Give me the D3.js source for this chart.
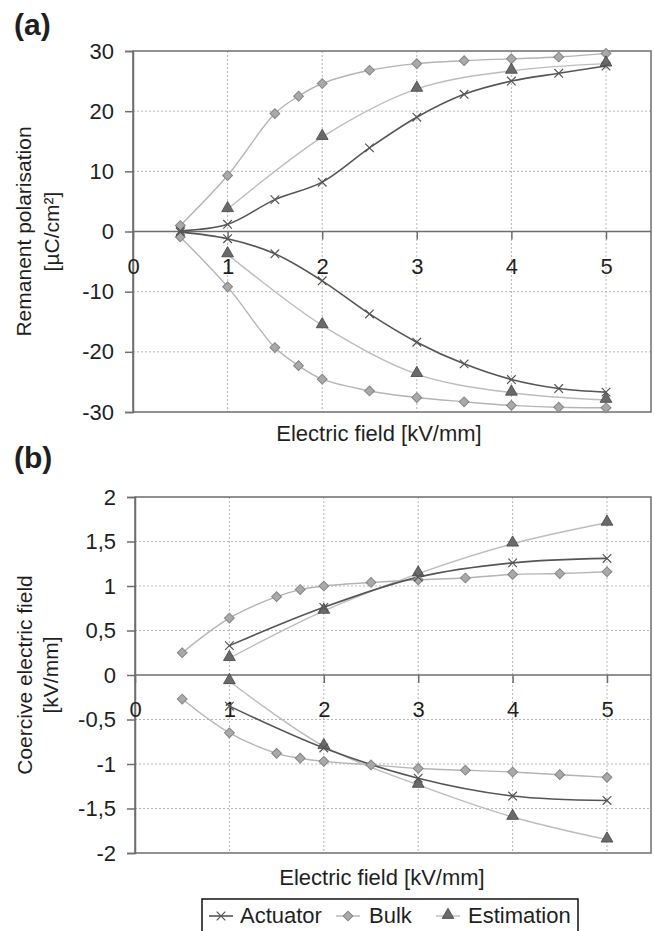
<!DOCTYPE html>
<html>
<head>
<meta charset="utf-8">
<script src="https://cdn.jsdelivr.net/npm/d3@7"></script>
<style>
  body { margin: 0; background: #fff; }
  text { font-family: Arial, "Liberation Sans", sans-serif; fill: #1f1f1f; }
</style>
</head>
<body>
<div class="graph"></div>
<script>
var width = 654,
    height = 931;

// panel (a) - remanent polarisation
var fieldBulkA = [0.5, 1, 1.5, 1.75, 2, 2.5, 3, 3.5, 4, 4.5, 5];
var fieldActA = [0.5, 1, 1.5, 2, 2.5, 3, 3.5, 4, 4.5, 5];
var fieldEstA = [1, 2, 3, 4, 5];
var remBulkPos = [1, 9.3, 19.6, 22.5, 24.6, 26.8, 27.9, 28.4, 28.7, 29, 29.6];
var remBulkNeg = [-0.9, -9.2, -19.3, -22.3, -24.55, -26.5, -27.6, -28.3, -28.9, -29.2, -29.3];
var remActPos = [0.1, 1.2, 5.3, 8.2, 13.9, 19.0, 22.8, 25.0, 26.3, 27.5];
var remActNeg = [-0.1, -1.2, -3.7, -8.2, -13.7, -18.4, -22.0, -24.6, -26.1, -26.7];
var remEstPos = [3.7, 15.7, 23.7, 26.7, 27.9];
var remEstNeg = [-3.8, -15.6, -23.7, -26.8, -28.0];
var ticksYA = [-30, -20, -10, 0, 10, 20, 30];

// panel (b) - coercive electric field
var fieldBulkB = [0.5, 1, 1.5, 1.75, 2, 2.5, 3, 3.5, 4, 4.5, 5];
var fieldB = [1, 2, 3, 4, 5];
var coBulkPos = [0.25, 0.64, 0.88, 0.96, 1.0, 1.04, 1.07, 1.09, 1.13, 1.14, 1.16];
var coBulkNeg = [-0.27, -0.65, -0.88, -0.935, -0.97, -1.01, -1.05, -1.07, -1.09, -1.12, -1.15];
var coActPos = [0.33, 0.76, 1.10, 1.26, 1.31];
var coActNeg = [-0.35, -0.82, -1.16, -1.36, -1.41];
var coEstPos = [0.19, 0.72, 1.14, 1.475, 1.71];
var coEstNeg = [-0.07, -0.80, -1.235, -1.595, -1.85];
var ticksYB = [-2, -1.5, -1, -0.5, 0, 0.5, 1, 1.5, 2];

var ticksX = [0, 1, 2, 3, 4, 5];
var seriesNames = ["Actuator", "Bulk", "Estimation"];

var styles = {
  Actuator: { line: "#555", width: 1.6 },
  Bulk: { line: "#b4b4b4", width: 1.4 },
  Estimation: { line: "#bdbdbd", width: 1.4 }
};

var svg = d3.select(".graph").append("svg")
    .attr("width", width)
    .attr("height", height);

function zip(xs, ys) {
  return xs.map(function(x, i) { return [x, ys[i]]; });
}

function drawMarker(g, name, x, y) {
  if (name == "Actuator") {
    g.append("path")
      .attr("d", d3.symbol().type(d3.symbolX).size(50)())
      .attr("transform", "translate(" + x + "," + y + ")")
      .attr("fill", "none")
      .attr("stroke", "#555")
      .attr("stroke-width", 1.2);
  } else if (name == "Bulk") {
    g.append("path")
      .attr("d", d3.symbol().type(d3.symbolSquare).size(48)())
      .attr("transform", "translate(" + x + "," + y + ") rotate(45)")
      .attr("fill", "#a9a9a9")
      .attr("stroke", "#858585")
      .attr("stroke-width", 1);
  } else {
    g.append("path")
      .attr("d", d3.symbol().type(d3.symbolTriangle).size(60)())
      .attr("transform", "translate(" + x + "," + (y - 1) + ")")
      .attr("fill", "#6a6a6a")
      .attr("stroke", "#444")
      .attr("stroke-width", 0.8);
  }
}

function panel(opt) {
  var x = d3.scaleLinear().domain([0, 5]).range([opt.left, opt.x5]);
  var y = d3.scaleLinear().domain(opt.yDomain).range([opt.bottom, opt.top]);
  var g = svg.append("g");

  // dotted grid
  g.selectAll(".gy").data(opt.yTicks.filter(function(d) {
      return d != 0 && d != opt.yDomain[0] && d != opt.yDomain[1];
    }))
    .enter().append("line")
      .attr("x1", opt.left).attr("x2", opt.right)
      .attr("y1", function(d) { return y(d); })
      .attr("y2", function(d) { return y(d); })
      .attr("stroke", "#b5b5b5")
      .attr("stroke-dasharray", "2,2");
  g.selectAll(".gx").data(ticksX.filter(function(d) { return d > 0; }))
    .enter().append("line")
      .attr("x1", function(d) { return x(d); })
      .attr("x2", function(d) { return x(d); })
      .attr("y1", opt.top).attr("y2", opt.bottom)
      .attr("stroke", "#b5b5b5")
      .attr("stroke-dasharray", "2,2");

  // frame
  g.append("rect")
    .attr("x", opt.left).attr("y", opt.top)
    .attr("width", opt.right - opt.left)
    .attr("height", opt.bottom - opt.top)
    .attr("fill", "none")
    .attr("stroke", "#6e6e6e")
    .attr("stroke-width", 1.5);

  // y axis ticks + labels
  var yAxis = d3.axisLeft(y).tickValues(opt.yTicks).tickSize(8).tickPadding(11)
      .tickFormat(opt.yFormat);
  var ya = g.append("g")
      .attr("transform", "translate(" + opt.left + ",0)")
      .call(yAxis);
  ya.select(".domain").attr("stroke", "#6e6e6e").attr("stroke-width", 1.5);
  ya.selectAll(".tick line").attr("stroke", "#6e6e6e").attr("stroke-width", 1.5);
  ya.selectAll(".tick text")
      .style("font-size", "22px")
      .attr("fill", "#1f1f1f");

  // x axis drawn on the zero line, labels hang below
  var xAxis = d3.axisBottom(x).tickValues(ticksX).tickSize(8).tickPadding(0)
      .tickFormat(d3.format("d"));
  var xa = g.append("g")
      .attr("transform", "translate(0," + y(0) + ")")
      .call(xAxis);
  xa.select(".domain").remove();
  xa.selectAll(".tick line").attr("stroke", "#6e6e6e").attr("stroke-width", 1.5);
  xa.selectAll(".tick text")
      .attr("y", opt.xLabelDy)
      .attr("dy", 0)
      .style("font-size", "22px")
      .attr("fill", "#1f1f1f");
  g.append("line")
    .attr("x1", opt.left).attr("x2", opt.right)
    .attr("y1", y(0)).attr("y2", y(0))
    .attr("stroke", "#6e6e6e")
    .attr("stroke-width", 1.5);

  // curves
  var line = d3.line()
      .x(function(d) { return x(d[0]); })
      .y(function(d) { return y(d[1]); })
      .curve(d3.curveCatmullRom.alpha(0.5));

  var order = ["Bulk", "Estimation", "Actuator"];
  order.forEach(function(name) {
    opt.series.filter(function(s) { return s.name == name; }).forEach(function(s) {
      g.append("path")
        .datum(s.points)
        .attr("d", line)
        .attr("fill", "none")
        .attr("stroke", styles[name].line)
        .attr("stroke-width", styles[name].width);
    });
  });
  order.forEach(function(name) {
    opt.series.filter(function(s) { return s.name == name; }).forEach(function(s) {
      s.points.forEach(function(p) { drawMarker(g, name, x(p[0]), y(p[1])); });
    });
  });

  // titles
  g.append("text")
    .attr("x", 14).attr("y", opt.tagY)
    .style("font-size", "30px")
    .style("font-weight", "bold")
    .text(opt.tag);

  var cy = (opt.top + opt.bottom) / 2;
  opt.yTitle.forEach(function(t, i) {
    g.append("text")
      .attr("transform", "translate(" + opt.yTitleX[i] + "," + cy + ") rotate(-90)")
      .attr("text-anchor", "middle")
      .style("font-size", "21px")
      .text(t);
  });

  g.append("text")
    .attr("x", opt.xTitleX).attr("y", opt.xTitleY)
    .attr("text-anchor", "middle")
    .style("font-size", "22px")
    .text("Electric field [kV/mm]");
}

panel({
  tag: "(a)", tagY: 35,
  left: 133, right: 651, top: 51, bottom: 412, x5: 606,
  yDomain: [-30, 30], yTicks: ticksYA,
  yFormat: function(d) { return d; },
  xLabelDy: 42,
  yTitle: ["Remanent polarisation", "[\u00b5C/cm\u00b2]"], yTitleX: [31, 59],
  xTitleX: 379, xTitleY: 441,
  series: [
    { name: "Bulk", points: zip(fieldBulkA, remBulkPos) },
    { name: "Bulk", points: zip(fieldBulkA, remBulkNeg) },
    { name: "Actuator", points: zip(fieldActA, remActPos) },
    { name: "Actuator", points: zip(fieldActA, remActNeg) },
    { name: "Estimation", points: zip(fieldEstA, remEstPos) },
    { name: "Estimation", points: zip(fieldEstA, remEstNeg) }
  ]
});

panel({
  tag: "(b)", tagY: 468,
  left: 135, right: 651, top: 497, bottom: 853, x5: 607,
  yDomain: [-2, 2], yTicks: ticksYB,
  yFormat: function(d) { return String(d).replace(".", ","); },
  xLabelDy: 42,
  yTitle: ["Coercive electric field", "[kV/mm]"], yTitleX: [32, 58],
  xTitleX: 382, xTitleY: 885,
  series: [
    { name: "Bulk", points: zip(fieldBulkB, coBulkPos) },
    { name: "Bulk", points: zip(fieldBulkB, coBulkNeg) },
    { name: "Actuator", points: zip(fieldB, coActPos) },
    { name: "Actuator", points: zip(fieldB, coActNeg) },
    { name: "Estimation", points: zip(fieldB, coEstPos) },
    { name: "Estimation", points: zip(fieldB, coEstNeg) }
  ]
});

// legend, cut by the bottom edge like the original
var legend = svg.append("g");
legend.append("rect")
  .attr("x", 202).attr("y", 899)
  .attr("width", 376).attr("height", 50)
  .attr("fill", "#fff")
  .attr("stroke", "#111")
  .attr("stroke-width", 1.5);

var legendX = [221, 348, 448];
var legendTextX = [240, 369, 468];
seriesNames.forEach(function(name, i) {
  legend.append("line")
    .attr("x1", legendX[i] - 12).attr("x2", legendX[i] + 12)
    .attr("y1", 916).attr("y2", 916)
    .attr("stroke", styles[name].line)
    .attr("stroke-width", styles[name].width);
  drawMarker(legend, name, legendX[i], 916);
  legend.append("text")
    .attr("x", legendTextX[i]).attr("y", 923)
    .style("font-size", "22px")
    .text(name);
});
</script>
</body>
</html>
